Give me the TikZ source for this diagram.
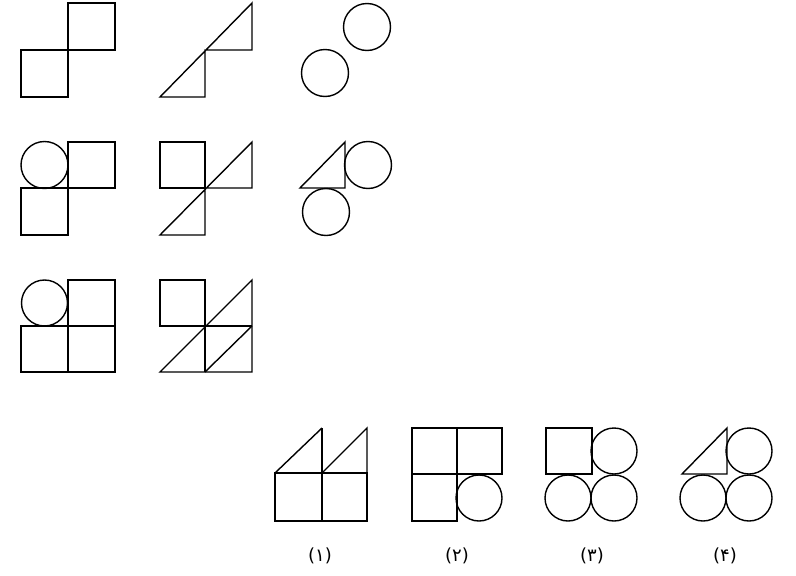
\documentclass[tikz,border=0pt]{standalone}
\usepackage{fontspec}
\newfontfamily\persianfont{DejaVu Sans}
\begin{document}
\begin{tikzpicture}[x=1pt,y=-1pt,line width=1.4pt,
  lbl/.style={font=\persianfont\fontsize{18}{20}\selectfont}]
  \useasboundingbox (0,0) rectangle (796,576);
  % row 1
  \draw (21,50) rectangle (68,97);
  \draw (68,3) rectangle (115,50);
  \draw (160,97)--(252,3)--(252,50)--(205,50)--(205,97)--cycle;
  \draw (367,27) circle[radius=23.5pt];
  \draw (325,73) circle[radius=23.5pt];
  % row 2
  \draw (44.5,165) circle[radius=23.5pt];
  \draw (68,142) rectangle (115,188);
  \draw (21,188) rectangle (68,235);
  \draw (160,142) rectangle (205,188);
  \draw (160,235)--(252,142)--(252,188)--(205,188)--(205,235)--cycle;
  \draw (300,188)--(345,142)--(345,188)--cycle;
  \draw (368,165) circle[radius=23.5pt];
  \draw (326,212) circle[radius=23.5pt];
  % row 3
  \draw (44.5,303) circle[radius=23pt];
  \draw (68,280) rectangle (115,326);
  \draw (21,326) rectangle (115,372);
  \draw (68,326)--(68,372);
  \draw (160,280) rectangle (205,326);
  \draw (160,372)--(252,280)--(252,372)--cycle;
  \draw (205,326)--(252,326);
  \draw (205,326)--(205,372);
  \draw (205,372)--(252,326);
  % answers
  \draw (275,473) rectangle (367,521);
  \draw (322,428)--(322,521);
  \draw (275,473)--(322,428);
  \draw (322,473)--(367,428)--(367,473);
  \draw (412,428) rectangle (502,474);
  \draw (457,428)--(457,521)--(412,521)--(412,474)--(457,474);
  \draw (479,498) circle[radius=23pt];
  \draw (546,428) rectangle (592,474);
  \draw (614,451) circle[radius=23pt];
  \draw (568,498) circle[radius=23pt];
  \draw (614,498) circle[radius=23pt];
  \draw (682,474)--(727,428)--(727,474)--cycle;
  \draw (749,451) circle[radius=23pt];
  \draw (703,498) circle[radius=23pt];
  \draw (749,498) circle[radius=23pt];
  \node[lbl] (opt1) at (320,556) {(۱)};
  \node[lbl] (opt2) at (457,556) {(۲)};
  \node[lbl] (opt3) at (592,556) {(۳)};
  \node[lbl] (opt4) at (725,556) {(۴)};
\end{tikzpicture}
\end{document}
